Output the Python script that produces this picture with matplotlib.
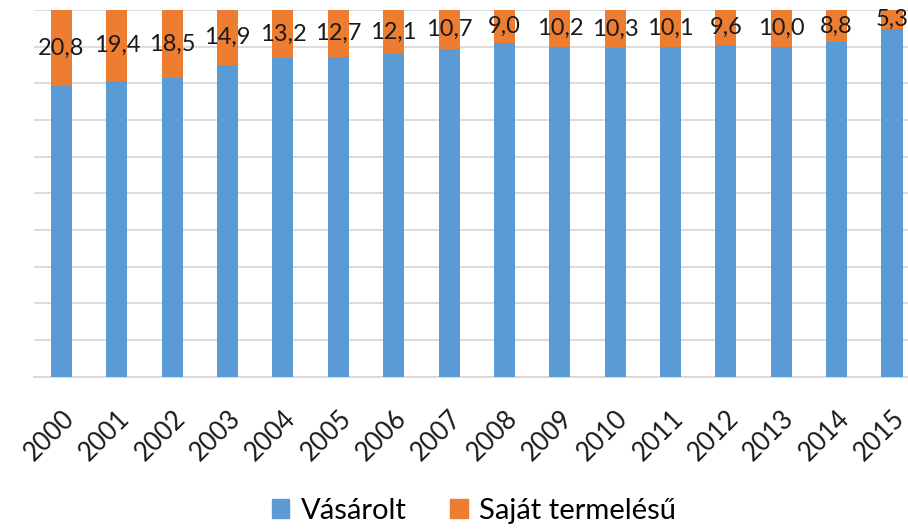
import numpy as np
import matplotlib
matplotlib.use("Agg")
import matplotlib.pyplot as plt
from matplotlib.patches import Patch

years = [str(y) for y in range(2000, 2016)]
sajat = [20.8, 19.4, 18.5, 14.9, 13.2, 12.7, 12.1, 10.7, 9.0, 10.2, 10.3, 10.1, 9.6, 10.0, 8.8, 5.3]
labels = ["20,8", "19,4", "18,5", "14,9", "13,2", "12,7", "12,1", "10,7", "9,0",
          "10,2", "10,3", "10,1", "9,6", "10,0", "8,8", "5,3"]
vasarolt = [100 - v for v in sajat]

blue = "#5B9BD5"
orange = "#ED7D31"
plt.rcParams['font.family'] = ['Lato', 'DejaVu Sans']

W, H = 908, 529
fig = plt.figure(figsize=(W / 100, H / 100), dpi=100)
# plot area is cut off at the right edge in the original
ax = fig.add_axes([33.8 / W, (H - 376.7) / H, 885.9 / W, 366.7 / H])

x = np.arange(len(years))
ax.bar(x, vasarolt, width=0.38, color=blue, zorder=3)
ax.bar(x, sajat, width=0.38, bottom=vasarolt, color=orange, zorder=3)

# data labels in the middle of the orange segment
for i in range(len(x)):
    ax.text(x[i], vasarolt[i] + sajat[i] / 2, labels[i], ha='center', va='center',
            fontsize=17, color='#1a1a1a', zorder=4)

ax.set_xlim(-0.5, 15.5)
ax.set_ylim(0, 100)
ax.set_yticks(np.arange(0, 101, 10))
ax.set_yticklabels([])
ax.yaxis.grid(True, color='#D9D9D9', linewidth=1.3, zorder=0)
ax.tick_params(axis='y', length=0)
ax.tick_params(axis='x', length=0, pad=21)
ax.set_xticks(x)
ax.set_xticklabels(years, rotation=45, ha='right', va='top', rotation_mode='anchor',
                   fontsize=18.5, color='#1a1a1a')
for s in ['top', 'left', 'right']:
    ax.spines[s].set_visible(False)
ax.spines['bottom'].set_color('#D9D9D9')
ax.spines['bottom'].set_linewidth(1.3)

handles = [Patch(color=blue, label='Vásárolt'), Patch(color=orange, label='Saját termelésű')]
fig.legend(handles=handles, loc='center', bbox_to_anchor=(474 / W, 1 - 511 / H), ncol=2,
           frameon=False, fontsize=21, handlelength=0.6, handleheight=0.6,
           handletextpad=0.4, columnspacing=1.5)

fig.savefig("out.png", dpi=100)
